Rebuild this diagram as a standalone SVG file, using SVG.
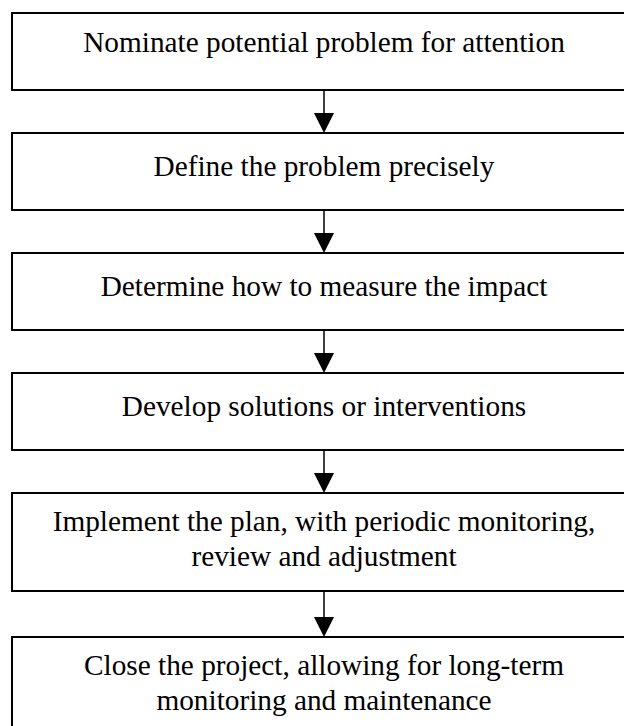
<svg xmlns="http://www.w3.org/2000/svg" width="624" height="726" viewBox="0 0 624 726">
  <style>
    .box { fill: #ffffff; stroke: #000000; stroke-width: 2; }
    .label { font-family: "Liberation Serif", "Times New Roman", serif; font-size: 29.3px; fill: #000000; text-anchor: middle; }
    .link { stroke: #000000; stroke-width: 1.5; fill: none; }
    .head { fill: #000000; stroke: none; }
  </style>
  <rect width="624" height="726" fill="#ffffff"/>

  <g id="connectors">
    <line class="link" x1="324" y1="90" x2="324" y2="114"/>
    <polygon class="head" points="314,113 334,113 324,133"/>
    <line class="link" x1="324" y1="210" x2="324" y2="234"/>
    <polygon class="head" points="314,233 334,233 324,253"/>
    <line class="link" x1="324" y1="330" x2="324" y2="354"/>
    <polygon class="head" points="314,353 334,353 324,373"/>
    <line class="link" x1="324" y1="450" x2="324" y2="474"/>
    <polygon class="head" points="314,473 334,473 324,493"/>
    <line class="link" x1="324" y1="591" x2="324" y2="618"/>
    <polygon class="head" points="314,617 334,617 324,637"/>
  </g>

  <g id="step1">
    <rect class="box" x="12" y="13" width="624" height="77"/>
    <text class="label" x="324" y="52">Nominate potential problem for attention</text>
  </g>
  <g id="step2">
    <rect class="box" x="12" y="133" width="624" height="77"/>
    <text class="label" x="324" y="176">Define the problem precisely</text>
  </g>
  <g id="step3">
    <rect class="box" x="12" y="253" width="624" height="77"/>
    <text class="label" x="324" y="296">Determine how to measure the impact</text>
  </g>
  <g id="step4">
    <rect class="box" x="12" y="373" width="624" height="77"/>
    <text class="label" x="324" y="416">Develop solutions or interventions</text>
  </g>
  <g id="step5">
    <rect class="box" x="12" y="493" width="624" height="98"/>
    <text class="label" x="324" y="531">Implement the plan, with periodic monitoring,</text>
    <text class="label" x="324" y="566">review and adjustment</text>
  </g>
  <g id="step6">
    <rect class="box" x="12" y="637" width="624" height="98"/>
    <text class="label" x="324" y="675">Close the project, allowing for long-term</text>
    <text class="label" x="324" y="710">monitoring and maintenance</text>
  </g>
</svg>
